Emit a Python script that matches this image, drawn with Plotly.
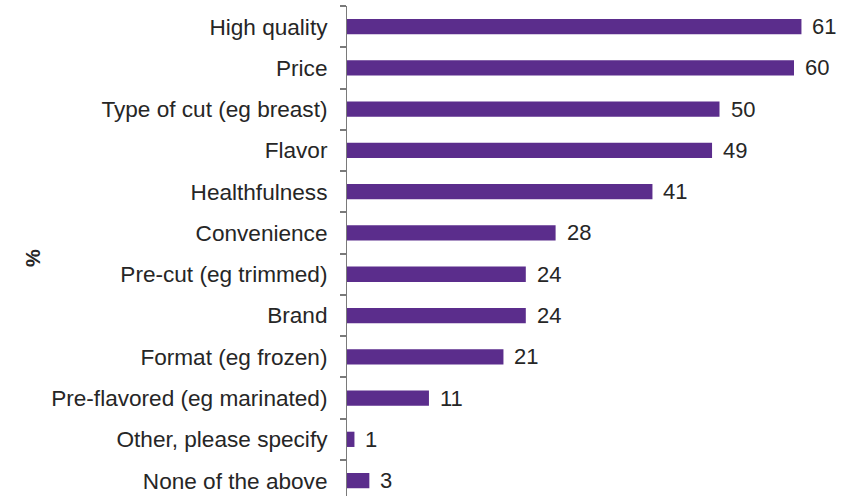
import plotly.graph_objects as go

categories = ["High quality", "Price", "Type of cut (eg breast)", "Flavor", "Healthfulness",
              "Convenience", "Pre-cut (eg trimmed)", "Brand", "Format (eg frozen)",
              "Pre-flavored (eg marinated)", "Other, please specify", "None of the above"]
values = [61, 60, 50, 49, 41, 28, 24, 24, 21, 11, 1, 3]

W, H = 851, 496
left = 347
bar_color = "#5B2D8C"
text_color = "#262626"
axis_color = "#7a7a7a"
font_fam = "Liberation Sans, Arial, sans-serif"

fig = go.Figure(go.Bar(
    x=values, y=categories, orientation="h",
    marker=dict(color=bar_color, line=dict(width=0)),
    width=0.37,
))

plot_w = W - left
plot_h = H - 6

annotations = [dict(x=v, y=c, text=str(v), xref="x", yref="y", xanchor="left", yanchor="middle",
                    xshift=9, showarrow=False,
                    font=dict(size=22, color=text_color, family=font_fam))
               for c, v in zip(categories, values)]
annotations.append(dict(x=(33 - left) / plot_w, y=(H - 258) / plot_h, xref="paper", yref="paper",
                        text="<b>%</b>", textangle=-90, xanchor="center", yanchor="middle",
                        showarrow=False, font=dict(size=20, color=text_color, family=font_fam)))

px_per_cat = 41.27
span = plot_h / px_per_cat
yrange = [-0.5 + span, -0.5]

fig.update_layout(
    width=W, height=H,
    margin=dict(l=left, r=0, t=6, b=0),
    plot_bgcolor="white", paper_bgcolor="white",
    showlegend=False,
    annotations=annotations,
    xaxis=dict(range=[0, plot_w / 7.45], visible=False),
    yaxis=dict(
        type="category",
        categoryorder="array", categoryarray=categories,
        range=yrange,
        showline=True, linecolor=axis_color, linewidth=1,
        ticks="outside", tickson="boundaries", ticklen=6, tickwidth=1.5, tickcolor=axis_color,
        ticklabelstandoff=14,
        tickfont=dict(size=22.6, color=text_color, family=font_fam),
        showgrid=False, zeroline=False,
    ),
)
fig.write_html("out.html")
